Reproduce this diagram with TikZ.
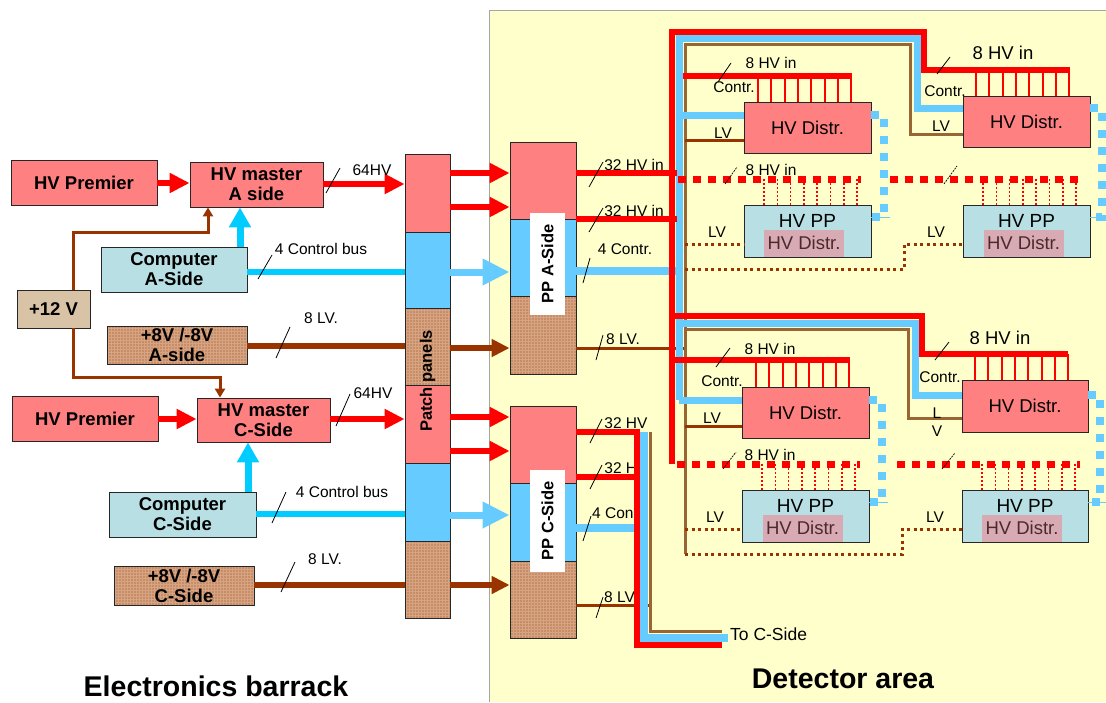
\documentclass[tikz,border=0pt]{standalone}
\usepackage{fontspec}
\setmainfont{Liberation Sans}
\usetikzlibrary{arrows.meta,calc}
\definecolor{salmon}{HTML}{FF8080}
\definecolor{hvred}{HTML}{FF0000}
\definecolor{cyanb}{HTML}{00CCFF}
\definecolor{lblue}{HTML}{66CCFF}
\definecolor{compfill}{HTML}{B8E0E4}
\definecolor{brn}{HTML}{993300}
\definecolor{brnlt}{HTML}{996633}
\definecolor{tanfill}{HTML}{D9C3A6}
\definecolor{boxbrown}{HTML}{C78D66}
\definecolor{gridbrown}{HTML}{D6A482}
\definecolor{detbg}{HTML}{FFFFCC}
\definecolor{pinkov}{HTML}{D8AAB3}
\definecolor{darktext}{HTML}{4A2A2A}
\begin{document}
\begin{tikzpicture}[x=1pt,y=-1pt,
  box/.style={draw=black!85, line width=0.8pt, rectangle, inner sep=0pt, align=center},
  sz/.style 2 args={minimum width=#1pt, minimum height=#2pt},
  redbox/.style={box, fill=salmon},
  bluebox/.style={box, fill=lblue},
  compbox/.style={box, fill=compfill},
  tanbox/.style={box, fill=tanfill},
  brownbox/.style={box, fill=boxbrown, path picture={\draw[gridbrown, line width=0.35pt] (path picture bounding box.south west) grid[step=3pt] (path picture bounding box.north east);}},
  bl/.style={font=\fontsize{18.5}{20}\selectfont\bfseries},
  rl/.style={font=\fontsize{16.5}{18}\selectfont\bfseries, inner sep=0pt},
  dl/.style={font=\fontsize{18.5}{20}\selectfont},
  sl/.style={font=\fontsize{15.5}{17}\selectfont, inner sep=0pt},
  bigl/.style={font=\fontsize{18.5}{20}\selectfont, inner sep=0pt},
  titl/.style={font=\fontsize{28.5}{30}\selectfont\bfseries, inner sep=0pt},
  redarr/.style={hvred, line width=6pt, -{Triangle[length=20pt,width=19pt]}},
  cyanarr/.style={cyanb, line width=7pt, -{Triangle[length=20pt,width=21pt]}},
  bigblue/.style={lblue, line width=7pt, -{Triangle[length=27pt,width=25pt]}},
  brnarr/.style={brn, line width=6pt, -{Triangle[length=18pt,width=17pt]}},
  smallbrn/.style={brn, line width=3pt, -{Triangle[length=9pt,width=10pt]}},
  slash/.style={black, line width=0.8pt},
  dslash/.style={black, line width=0.7pt, dash pattern=on 2pt off 1pt},
  redline/.style={hvred, line width=6pt},
  reddot/.style={hvred, line width=7pt, dash pattern=on 8pt off 7pt},
  tooth/.style={hvred, line width=2pt},
  dtooth/.style={hvred, line width=1.6pt, dash pattern=on 2pt off 2pt},
  bluebus/.style={lblue, line width=7pt},
  bluedot/.style={lblue, line width=8pt, dash pattern=on 8pt off 9pt},
  brnbus/.style={brnlt, line width=3pt},
  lvline/.style={brn, line width=3pt},
  lvdot/.style={brn, line width=3pt, dash pattern=on 3pt off 3.5pt}
]
\useasboundingbox (0,0) rectangle (1106,702);
\fill[white] (0,0) rectangle (1106,702);
\fill[detbg] (489,10) rectangle (1106,702);
\draw[gray!70, line width=0.8pt] (489,702) -- (489,10) -- (1106,10);

% ---------- left side boxes ----------
\node[redbox, sz={146}{45}, bl] (hvpremA) at (84,182.5) {HV Premier};
\node[redbox, sz={133}{45}, bl] (hvmA) at (256.5,184.5) {HV master\\A side};
\node[compbox, sz={146}{45}, bl] (compA) at (174,269.5) {Computer\\A-Side};
\node[tanbox, sz={73}{38}, bl] (p12) at (53.5,309) {+12 V};
\node[brownbox, sz={140}{38}, bl] (lvA) at (177,345) {+8V /-8V\\A-side};
\node[redbox, sz={146}{45}, bl] (hvpremC) at (85,418.5) {HV Premier};
\node[redbox, sz={133}{44}, bl] (hvmC) at (263.5,420) {HV master\\C-Side};
\node[compbox, sz={147}{45}, bl] (compC) at (182.5,514.5) {Computer\\C-Side};
\node[brownbox, sz={140}{39}, bl] (lvC) at (184,585.5) {+8V /-8V\\C-Side};

% patch panels
\node[redbox, sz={45}{78}] (pp1) at (427.5,193) {};
\node[bluebox, sz={45}{76}] (pp2) at (427.5,270) {};
\node[brownbox, sz={45}{77}] (pp3) at (427.5,346.5) {};
\node[redbox, sz={45}{78}] (pp4) at (427.5,424) {};
\node[bluebox, sz={45}{78}] (pp5) at (427.5,502) {};
\node[brownbox, sz={45}{77}] (pp6) at (427.5,579.5) {};
\node[rl, rotate=90] (pplab) at (427.5,381) {Patch panels};

% PP A / PP C
\node[redbox, sz={66}{77}] (ppAr) at (543,180.5) {};
\node[bluebox, sz={66}{77}] (ppAb) at (543,257.5) {};
\node[brownbox, sz={66}{78}] (ppAl) at (543,335) {};
\node[fill=white, inner sep=0pt, sz={35}{102}] (ppAlab) at (547.5,264) {};
\node[rl, rotate=90] at (ppAlab) {PP A-Side};
\node[redbox, sz={66}{77}] (ppCr) at (543,444.5) {};
\node[bluebox, sz={66}{78}] (ppCb) at (543,522) {};
\node[brownbox, sz={66}{77}] (ppCl) at (543,599.5) {};
\node[fill=white, inner sep=0pt, sz={35}{102}] (ppClab) at (547.5,521) {};
\node[rl, rotate=90] at (ppClab) {PP C-Side};

% ---------- left connectors ----------
\draw[redarr] (hvpremA.east |- 0,183) -- (hvmA.west |- 0,183);
\draw[redarr] (hvmA.east |- 0,184) -- (pp1.west |- 0,184);
\draw[cyanarr] (compA.north -| 240,0) -- (hvmA.south -| 240,0);
\draw[smallbrn] (p12.north -| 73,0) -- (73,232) -- (208,232) -- (hvmA.south -| 208,0);
\draw[cyanb, line width=6pt] (compA.east |- 0,272) -- (pp2.west |- 0,272);
\draw[brn, line width=6pt] (lvA.east |- 0,346) -- (pp3.west |- 0,346);
\draw[redarr] (hvpremC.east |- 0,419) -- (hvmC.west |- 0,419);
\draw[redarr] (hvmC.east |- 0,419) -- (pp4.west |- 0,419);
\draw[smallbrn] (p12.south -| 73,0) -- (73,377) -- (220,377) -- (hvmC.north -| 220,0);
\draw[cyanarr] (compC.north -| 248,0) -- (hvmC.south -| 248,0);
\draw[cyanb, line width=6pt] (compC.east |- 0,514) -- (pp5.west |- 0,514);
\draw[brn, line width=6pt] (lvC.east |- 0,585) -- (pp6.west |- 0,585);

% patch -> PP
\draw[redarr] (pp1.east |- 0,173) -- (ppAr.west |- 0,173);
\draw[redarr] (pp1.east |- 0,207) -- (ppAr.west |- 0,207);
\draw[bigblue] (pp2.east |- 0,272) -- (ppAb.west |- 0,272);
\draw[brnarr] (pp3.east |- 0,348) -- (ppAl.west |- 0,348);
\draw[redarr] (pp4.east |- 0,417) -- (ppCr.west |- 0,417);
\draw[redarr] (pp4.east |- 0,451) -- (ppCr.west |- 0,451);
\draw[bigblue] (pp5.east |- 0,515) -- (ppCb.west |- 0,515);
\draw[brnarr] (pp6.east |- 0,585) -- (ppCl.west |- 0,585);

% left labels
\node[sl] (l64a) at (372,170) {64HV};
\node[sl] (l64c) at (373,393) {64HV};
\node[sl] (lcba) at (321,249) {4 Control bus};
\node[sl] (lcbc) at (342,492) {4 Control bus};
\node[sl] (llva) at (321,318) {8 LV.};
\node[sl] (llvc) at (325,559) {8 LV.};
\draw[slash] (326,193) -- (340,168);
\draw[slash] (336,426) -- (350,394);
\draw[slash] (258,279) -- (272,255);
\draw[slash] (272,523) -- (286,492);
\draw[slash] (276,358) -- (290,327);
\draw[slash] (281,592) -- (295,562);

% PP labels
\node[sl] at (634,165) {32 HV in};
\node[sl] at (634,211) {32 HV in};
\node[sl] at (625,249) {4 Contr.};
\node[sl] at (623,339) {8 LV.};
\node[sl] at (626,423) {32 HV};
\node[sl] at (626,468) {32 HV};
\node[sl, anchor=west] at (592,513) {4 Con};
\node[sl, anchor=west] at (604,597) {8 LV};

% ---------- detector boxes ----------
\node[redbox, sz={127}{51}, dl] (d1) at (807.5,127.5) {HV Distr.};
\node[redbox, sz={127}{51}, dl] (d2) at (1026.5,121.5) {HV Distr.};
\node[compbox, sz={127}{52}] (p1) at (807.5,231) {};
\node[compbox, sz={127}{52}] (p2) at (1026.5,231) {};
\node[redbox, sz={127}{51}, dl] (d3) at (805.5,412.5) {HV Distr.};
\node[redbox, sz={126}{52}, dl] (d4) at (1025,406) {HV Distr.};
\node[compbox, sz={127}{52}] (p3) at (805.5,516) {};
\node[compbox, sz={126}{52}] (p4) at (1025,516) {};

% ---------- A-side buses ----------
\draw[lvline] (ppAl.east |- 0,348) -- (685,348);
\draw[brnbus] (685,554) -- (685,44) -- (910,44) -- (910,134) -- (d2.west |- 0,134);
\draw[brnbus] (685,329) -- (908,329) -- (908,418) -- (d4.west |- 0,418);
\draw[lvline] (685,140) -- (d1.west |- 0,140);
\draw[lvline] (685,426) -- (d3.west |- 0,426);
\draw[lvdot] (685,244) -- (p1.west |- 0,244);
\draw[lvdot] (685,269) -- (904,269) -- (904,244) -- (p2.west |- 0,244);
\draw[lvdot] (685,529) -- (p3.west |- 0,529);
\draw[lvdot] (685,554) -- (902,554) -- (902,529) -- (p4.west |- 0,529);

\draw[bluebus, line width=8pt] (ppAb.east |- 0,271) -- (679,271);
\draw[bluebus] (679,400) -- (679,38) -- (917,38) -- (917,108) -- (d2.west |- 0,108);
\draw[bluebus] (679,323) -- (915,323) -- (915,395) -- (d4.west |- 0,395);
\draw[bluebus] (679,115) -- (d1.west |- 0,115);
\draw[bluebus] (679,400) -- (d3.west |- 0,400);

\draw[bluedot] (d1.east |- 0,115) -- (884,115) -- (884,217) -- (p1.east |- 0,217);
\draw[bluedot] (d2.east |- 0,108) -- (1102,108) -- (1102,217) -- (p2.east |- 0,217);
\draw[bluedot] (d3.east |- 0,400) -- (882,400) -- (882,502) -- (p3.east |- 0,502);
\draw[bluedot] (d4.east |- 0,395) -- (1100,395) -- (1100,502) -- (p4.east |- 0,502);
\draw[lblue, line width=1pt] (p1.east |- 0,217) -- (890,217);
\draw[lblue, line width=1pt] (p2.east |- 0,217) -- (1106,217);
\draw[lblue, line width=1pt] (p3.east |- 0,502) -- (888,502);
\draw[lblue, line width=1pt] (p4.east |- 0,502) -- (1106,502);

\draw[redline] (ppAr.east |- 0,173) -- (677,173);
\draw[redline] (ppAr.east |- 0,219) -- (677,219);
\draw[redline] (672,464) -- (672,32) -- (924,32) -- (924,70) -- (1070,70);
\draw[redline] (672,316) -- (922,316) -- (922,354) -- (1068,354);
\draw[redline] (683,76) -- (852,76);
\draw[redline] (672,360) -- (850,360);
\foreach \i in {0,...,7} {
  \draw[tooth] ({758+13.3*\i},76) -- ({758+13.3*\i},102);
  \draw[tooth] ({976+13.3*\i},70) -- ({976+13.3*\i},96);
  \draw[tooth] ({756+13.3*\i},360) -- ({756+13.3*\i},387);
  \draw[tooth] ({975+13.3*\i},354) -- ({975+13.3*\i},380);
  \draw[dtooth] ({764+13.3*\i},179) -- ({764+13.3*\i},205);
  \draw[dtooth] ({983+13.3*\i},179) -- ({983+13.3*\i},205);
  \draw[dtooth] ({762+13.3*\i},464) -- ({762+13.3*\i},490);
  \draw[dtooth] ({982+13.3*\i},464) -- ({982+13.3*\i},490);
}
\draw[reddot] (678,179) -- (861,179);
\draw[reddot] (890,179) -- (1081,179);
\draw[reddot] (677,464) -- (860,464);
\draw[reddot] (897,464) -- (1080,464);

% ---------- C-side buses ----------
\draw[lvline] (ppCl.east |- 0,605) -- (650,605);
\draw[brnbus] (650,432) -- (650,631) -- (722,631);
\draw[lblue, line width=8pt] (ppCb.east |- 0,528) -- (644,528);
\draw[lblue, line width=8pt] (644,432) -- (644,638) -- (728,638);
\draw[redline] (ppCr.east |- 0,477) -- (637,477);
\draw[redline] (ppCr.east |- 0,432) -- (637,432) -- (637,645) -- (722,645);
\node[font=\fontsize{17.5}{19}\selectfont, inner sep=0pt, anchor=west] (toc) at (730,634) {To C-Side};

% PP slashes
\draw[slash] (589,187) -- (603,162);
\draw[slash] (589,232) -- (603,208);
\draw[slash] (583,283) -- (590,258);
\draw[slash] (596,360) -- (603,335);
\draw[slash] (590,443) -- (602,419);
\draw[slash] (590,489) -- (602,465);
\draw[slash] (583,541) -- (591,516);
\draw[slash] (596,618) -- (603,597);

% ---------- detector labels ----------
\node[sl] at (771,63) {8 HV in};
\node[sl] at (734,87) {Contr.};
\node[sl] at (723,133) {LV};
\node[bigl] at (1003,53) {8 HV in};
\node[sl] at (945,91) {Contr.};
\node[sl] at (941,126) {LV};
\node[sl] at (771,170) {8 HV in};
\node[sl] at (717,232) {LV};
\node[sl] at (936,232) {LV};
\node[sl] at (770,349) {8 HV in};
\node[sl] at (722,381) {Contr.};
\node[sl] at (712,418) {LV};
\node[bigl] at (1000,338) {8 HV in};
\node[sl] at (940,377) {Contr.};
\node[sl] at (937,413) {L};
\node[sl] at (937,431) {V};
\node[sl] at (770,455) {8 HV in};
\node[sl] at (715,517) {LV};
\node[sl] at (935,517) {LV};
\draw[slash] (718,82) -- (731,63);
\draw[slash] (937,74) -- (950,57);
\draw[dslash] (725,184) -- (737,167);
\draw[dslash] (944,184) -- (957,166);
\draw[slash] (716,367) -- (730,348);
\draw[slash] (935,360) -- (949,342);
\draw[dslash] (723,469) -- (736,452);
\draw[dslash] (942,469) -- (955,453);

% HV PP contents
\foreach \b/\cx/\px/\ty in {p1/807.5/804/0, p2/1026.5/1023.5/0, p3/805.5/802.5/285, p4/1025/1022/285} {
  \fill[pinkov] ({\px-40},{230+\ty}) rectangle ({\px+40},{256.5+\ty});
  \node[font=\fontsize{19}{20}\selectfont, inner sep=0pt] at (\cx,{221+\ty}) {HV PP};
  \node[font=\fontsize{18.5}{20}\selectfont, inner sep=0pt, text=darktext] at (\px,{243+\ty}) {HV Distr.};
}

% titles
\node[titl] (eb) at (216,686) {Electronics barrack};
\node[titl] (da) at (843,679) {Detector area};
\end{tikzpicture}
\end{document}
